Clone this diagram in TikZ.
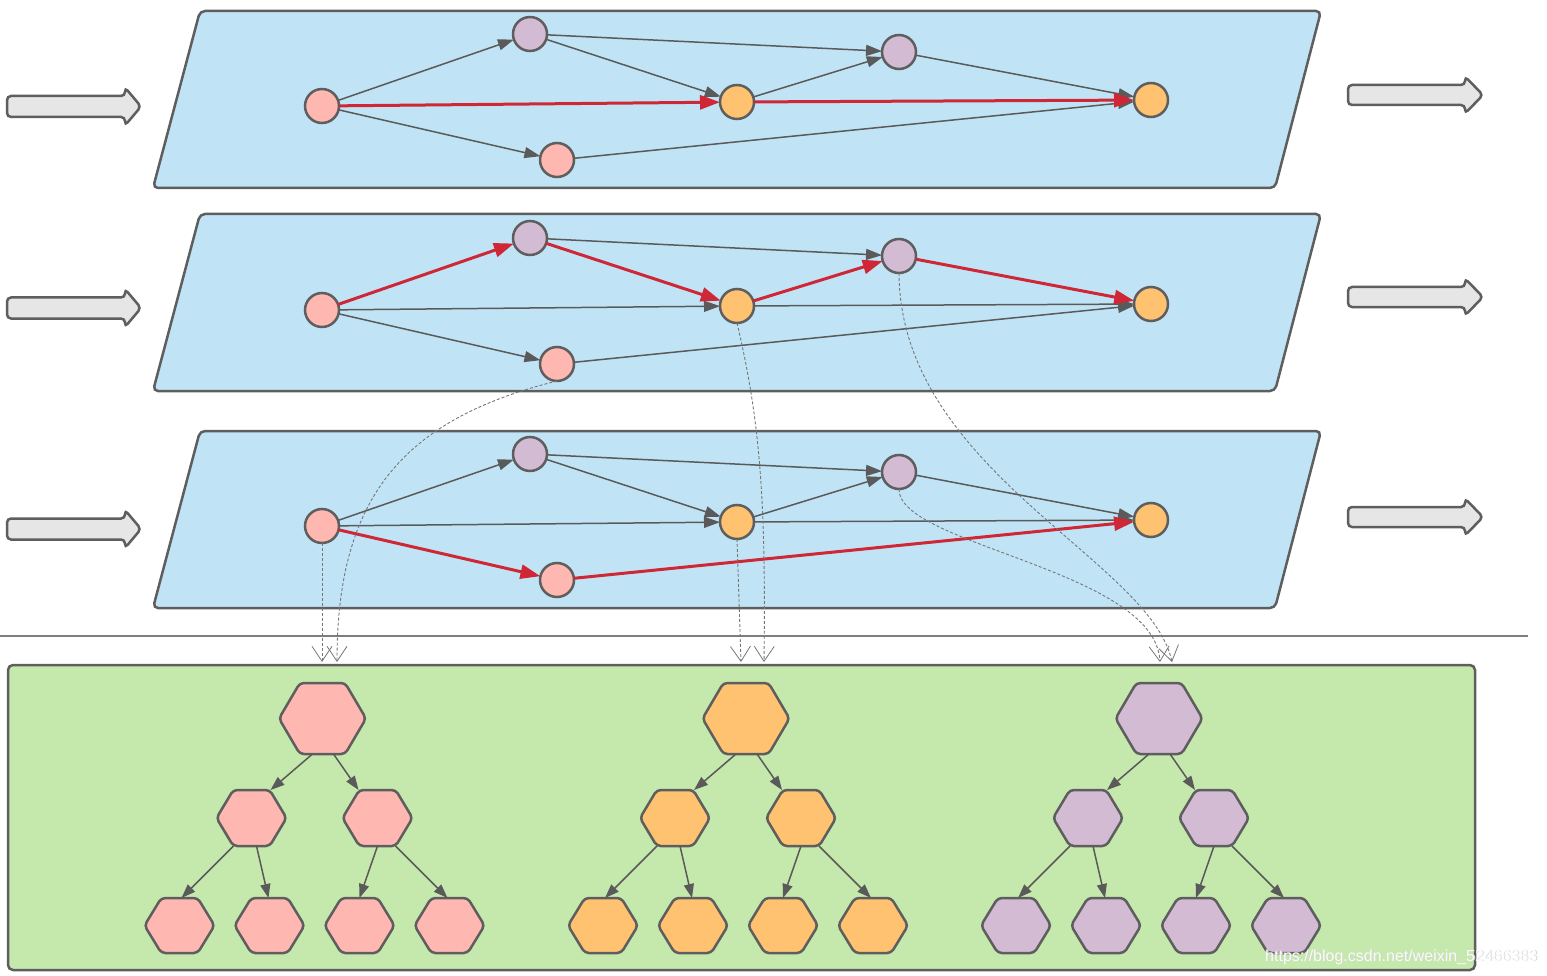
\documentclass[tikz,border=0pt]{standalone}
\usepackage{fontspec}
\newfontfamily\wmfont{Liberation Sans}
\usetikzlibrary{arrows.meta,calc}
\definecolor{panelblue}{HTML}{C0E4F6}
\definecolor{bordergray}{HTML}{5E5E5E}
\definecolor{edgegray}{HTML}{5A5A5A}
\definecolor{pinkn}{HTML}{FFB8B1}
\definecolor{purplen}{HTML}{D2BBD3}
\definecolor{orangen}{HTML}{FFC270}
\definecolor{greenbg}{HTML}{C5E8AC}
\definecolor{rededge}{HTML}{CF2736}
\definecolor{arrowfill}{HTML}{E6E6E6}
\definecolor{dashgray}{HTML}{767676}
\definecolor{wmshadow}{HTML}{D4D4D4}
\tikzset{
  panelshape/.style={draw=bordergray, fill=panelblue, line width=2.5pt, rounded corners=5pt},
  vtx/.style={circle, draw=bordergray, line width=2.5pt, minimum size=34pt, inner sep=0pt, outer sep=0pt},
  vpink/.style={vtx, fill=pinkn},
  vpurp/.style={vtx, fill=purplen},
  vorng/.style={vtx, fill=orangen},
  gedge/.style={draw=edgegray, line width=1.5pt, -{Triangle[length=16pt,width=11pt]}},
  redge/.style={draw=rededge, line width=3pt, -{Triangle[length=20pt,width=14pt]}},
  fatarrowstyle/.style={draw=bordergray, fill=arrowfill, line width=2.5pt, rounded corners=4pt},
  hexbb/.style={rectangle, draw=none, inner sep=0pt, outer sep=0pt},
  hexline/.style={draw=bordergray, line width=2.5pt, rounded corners=4pt},
  hedge/.style={draw=edgegray, line width=1.5pt, -{Triangle[length=14pt,width=10pt]}},
  dcurve/.style={draw=dashgray, line width=0.9pt, dash pattern=on 3pt off 2pt,
     -{Straight Barb[length=15pt,width=20pt,line width=0.8pt]}},
  wmtext/.style={anchor=west, inner sep=0pt, font=\wmfont\fontsize{16}{18}\selectfont},
}
\newcommand\hexnode[6]{%
  \node[hexbb, minimum width=#4pt, minimum height=#5pt] (#1) at (#2,#3) {};
  \draw[hexline, fill=#6] (#1.west)
    -- ($(#1.north west)!0.24!(#1.north east)$)
    -- ($(#1.north west)!0.76!(#1.north east)$)
    -- (#1.east)
    -- ($(#1.south west)!0.76!(#1.south east)$)
    -- ($(#1.south west)!0.24!(#1.south east)$)
    -- cycle;
}
\newcommand\fatarrow[6]{%
  \draw[fatarrowstyle] (#1,#3-#4) -- (#2-#6,#3-#4) -- (#2-#6,#3-#5) -- (#2,#3)
    -- (#2-#6,#3+#5) -- (#2-#6,#3+#4) -- (#1,#3+#4) -- cycle;
}
\begin{document}
\begin{tikzpicture}[x=1pt,y=-1pt]
\useasboundingbox (0,0) rectangle (1547,976);

% side arrows
\foreach \yl/\yr in {106.5/95, 308/297, 529/517} {
  \fatarrow{7}{141}{\yl}{10.5}{19}{16}
  \fatarrow{1348}{1483}{\yr}{10}{18.5}{18}
}

% panels and vertices
\foreach \p/\dy/\pd in {1/0/0, 2/204/203, 3/420/420} {
  \draw[panelshape] (200,11+\pd) -- (1321,11+\pd) -- (1275,188+\pd) -- (153,188+\pd) -- cycle;
  \node[vpink] (a\p) at (322,106+\dy) {};
  \node[vpurp] (b\p) at (530,34+\dy) {};
  \node[vpink] (c\p) at (557,160+\dy) {};
  \node[vorng] (d\p) at (737,102+\dy) {};
  \node[vpurp] (e\p) at (899,52+\dy) {};
  \node[vorng] (f\p) at (1151,100+\dy) {};
}

% panel 1 edges
\draw[gedge] (a1) -- (b1);
\draw[gedge] (a1) -- (c1);
\draw[gedge] (b1) -- (d1);
\draw[gedge] (b1) -- (e1);
\draw[gedge] (d1) -- (e1);
\draw[gedge] (e1) -- (f1);
\draw[gedge] (c1) -- (f1);
\draw[redge] (a1) -- (d1);
\draw[redge] (d1) -- (f1);

% panel 2 edges
\draw[gedge] (a2) -- (c2);
\draw[gedge] (a2) -- (d2);
\draw[gedge] (b2) -- (e2);
\draw[gedge] (d2) -- (f2);
\draw[gedge] (c2) -- (f2);
\draw[redge] (a2) -- (b2);
\draw[redge] (b2) -- (d2);
\draw[redge] (d2) -- (e2);
\draw[redge] (e2) -- (f2);

% panel 3 edges
\draw[gedge] (a3) -- (b3);
\draw[gedge] (a3) -- (d3);
\draw[gedge] (b3) -- (d3);
\draw[gedge] (b3) -- (e3);
\draw[gedge] (d3) -- (e3);
\draw[gedge] (d3) -- (f3);
\draw[gedge] (e3) -- (f3);
\draw[redge] (a3) -- (c3);
\draw[redge] (c3) -- (f3);

% separator
\draw[draw=bordergray!80, line width=1.2pt] (0,636) -- (1528,636);

% green box
\draw[draw=bordergray, fill=greenbg, line width=2.5pt, rounded corners=5pt] (8,665) rectangle (1475,970);

% hexagon trees
\foreach \g/\gx/\col in {1/322.5/pinkn, 2/746/orangen, 3/1159/purplen} {
  \hexnode{h\g t}{\gx}{718.5}{87}{71}{\col}
  \hexnode{h\g l}{\gx-71}{818}{70}{56}{\col}
  \hexnode{h\g r}{\gx+55}{818}{70}{56}{\col}
  \hexnode{h\g a}{\gx-143}{925.5}{70}{55}{\col}
  \hexnode{h\g b}{\gx-53}{925.5}{70}{55}{\col}
  \hexnode{h\g c}{\gx+37}{925.5}{70}{55}{\col}
  \hexnode{h\g d}{\gx+127}{925.5}{70}{55}{\col}
  \draw[hedge] ($(h\g t.south)+(-10,0)$) -- ($(h\g l.north)+(19,0)$);
  \draw[hedge] ($(h\g t.south)+(11,0)$) -- ($(h\g r.north)+(-19,0)$);
  \draw[hedge] ($(h\g l.south)+(-18,0)$) -- ($(h\g a.north)+(2,0)$);
  \draw[hedge] ($(h\g l.south)+(5,0)$) -- ($(h\g b.north)+(-1,0)$);
  \draw[hedge] ($(h\g r.south)+(0,0)$) -- ($(h\g c.north)+(0,0)$);
  \draw[hedge] ($(h\g r.south)+(18,0)$) -- ($(h\g d.north)+(-2,0)$);
}

% dashed mapping curves
\coordinate (t1) at (337,662);
\coordinate (t2) at (322,662);
\coordinate (t3) at (764,662);
\coordinate (t4) at (741,662);
\coordinate (t5) at (1172,662);
\coordinate (t6) at (1160,662);
\draw[dcurve] (c2.south) .. controls (400,420) and (337,500) .. (t1);
\draw[dcurve] (a3.south) -- (t2);
\draw[dcurve] (d2.south) .. controls (760,420) and (766,500) .. (t3);
\draw[dcurve] (d3.south) -- (t4);
\draw[dcurve] (e2.south) .. controls (900,470) and (1150,560) .. (t5);
\draw[dcurve] (e3.south) .. controls (898,545) and (1155,570) .. (t6);

% watermark (light shadow, then white text)
\node[wmtext, text=wmshadow] (wmshade) at (1265.8,957.8) {https://blog.csdn.net/weixin\_52466383};
\node[wmtext, text=white, opacity=0.9] (wm) at (1265,957) {https://blog.csdn.net/weixin\_52466383};
\end{tikzpicture}
\end{document}
